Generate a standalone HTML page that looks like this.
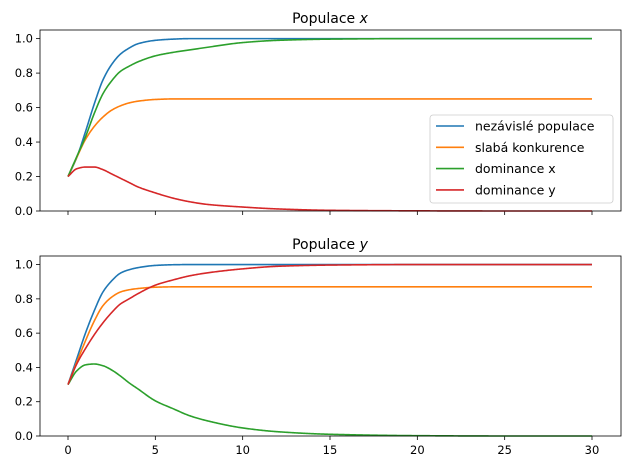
<!DOCTYPE html>
<html><head><meta charset="utf-8"><style>
body{margin:0;background:#fff}
svg text{font-family:"DejaVu Sans","Liberation Sans",sans-serif;fill:#000}
</style></head><body>
<svg id="chart" width="630" height="469" xmlns="http://www.w3.org/2000/svg"></svg>
<script>
const times = [0,0.5,1,1.5,2,2.5,3,3.5,4,5,6,7,8,10,12,15,20,25,30];
const xIndependent = [.2,.31,.46,.62,.76,.85,.91,.945,.97,.99,.997,1,1,1,1,1,1,1,1];
const xWeak = [.2,.31,.415,.49,.545,.585,.61,.627,.637,.647,.65,.65,.65,.65,.65,.65,.65,.65,.65];
const xDomX = [.2,.315,.43,.565,.68,.755,.81,.84,.865,.9,.92,.935,.95,.977,.99,.997,1,1,1];
const xDomY = [.2,.245,.255,.255,.24,.215,.19,.165,.14,.105,.075,.053,.038,.023,.012,.004,.001,0,0];
const yIndependent = [.3,.45,.6,.73,.84,.905,.95,.97,.982,.995,.999,1,1,1,1,1,1,1,1];
const yWeak = [.3,.43,.555,.67,.76,.81,.84,.853,.86,.868,.87,.87,.87,.87,.87,.87,.87,.87,.87];
const yDomX = [.3,.38,.415,.42,.41,.385,.35,.31,.275,.205,.16,.117,.088,.047,.025,.01,.002,0,0];
const yDomY = [.3,.42,.51,.59,.66,.72,.77,.8,.83,.88,.91,.935,.952,.975,.99,.997,1,1,1];
const xTicks = [0,5,10,15,20,25,30];
const yTicks = [0,0.2,0.4,0.6,0.8,1.0];
const seriesNames = ["nezávislé populace","slabá konkurence","dominance x","dominance y"];
const colors = ["#1f77b4","#ff7f0e","#2ca02c","#d62728"];

const svg = document.getElementById('chart');
const NS = "http://www.w3.org/2000/svg";
function mk(tag, attrs, parent){const e=document.createElementNS(NS,tag);for(const k in attrs)e.setAttribute(k,attrs[k]);(parent||svg).appendChild(e);return e;}
const L=40,R=621;
const sx = t => 68 + t*(592-68)/30;

// monotone cubic interpolation (Fritsch-Carlson)
function monotone(xs, ys){
  const n=xs.length, d=[], m=new Array(n);
  for(let i=0;i<n-1;i++) d.push((ys[i+1]-ys[i])/(xs[i+1]-xs[i]));
  m[0]=d[0]; m[n-1]=d[n-2];
  for(let i=1;i<n-1;i++){
    if(d[i-1]*d[i]<=0) m[i]=0;
    else { const w1=2*(xs[i+1]-xs[i])+(xs[i]-xs[i-1]), w2=(xs[i+1]-xs[i])+2*(xs[i]-xs[i-1]); m[i]=(w1+w2)/(w1/d[i-1]+w2/d[i]); }
  }
  return t=>{
    let i=0; while(i<n-2 && t>xs[i+1]) i++;
    const h=xs[i+1]-xs[i], s=(t-xs[i])/h;
    const h00=2*s*s*s-3*s*s+1,h10=s*s*s-2*s*s+s,h01=-2*s*s*s+3*s*s,h11=s*s*s-s*s;
    return h00*ys[i]+h10*h*m[i]+h01*ys[i+1]+h11*h*m[i+1];
  };
}

function panel(top,bottom,title,titleVar,data,showXLabels,pname){
  const g=mk('g',{});
  
  
  const syy = v => bottom - v*(bottom-top)/1.05;
  const ttl=mk('text',{x:330,y:top-7,'text-anchor':'middle','font-size':14},g);
  
  
  ttl.innerHTML=title+' <tspan font-style="italic">'+titleVar+'</tspan>';
  yTicks.forEach(v=>{
    const y=syy(v);
    mk('line',{x1:L-4,x2:L,y1:y,y2:y,stroke:'#000','stroke-width':0.8},g);
    const t=mk('text',{x:L-7,y:y+4,'text-anchor':'end','font-size':11.5},g);
    
    
    t.textContent=v.toFixed(1);
  });
  xTicks.forEach(v=>{
    const x=sx(v);
    mk('line',{x1:x,x2:x,y1:bottom,y2:bottom+4,stroke:'#000','stroke-width':0.8},g);
    if(showXLabels){
      const t=mk('text',{x:x,y:bottom+18,'text-anchor':'middle','font-size':11.5},g);
      
      
      t.textContent=v;
    }
  });
  data.forEach((arr,i)=>{
    const f=monotone(times,arr);
    let d='';
    const tmax=times[times.length-1];
    for(let k=0;k<=600;k++){
      const t=tmax*k/600;
      d+=(k?' L':'M')+sx(t).toFixed(2)+','+syy(f(t)).toFixed(2);
    }
    const p=mk('path',{d:d,fill:'none',stroke:colors[i],'stroke-width':1.6,'stroke-linejoin':'round'},g);
    
    
  });
  const fr=mk('rect',{x:L,y:top,width:R-L,height:bottom-top,fill:'none',stroke:'#000','stroke-width':0.8},g);
  
  
  return g;
}
panel(30,211,'Populace','x',[xIndependent,xWeak,xDomX,xDomY],false,'panel-x');
panel(256,436,'Populace','y',[yIndependent,yWeak,yDomX,yDomY],true,'panel-y');

const lg=mk('g',{});


mk('rect',{x:430,y:115,width:183,height:88,rx:3,fill:'#fff','fill-opacity':0.8,stroke:'#ccc','stroke-width':0.8},lg);
seriesNames.forEach((n,i)=>{
  const y=126+i*21.3;
  mk('line',{x1:436,x2:464,y1:y,y2:y,stroke:colors[i],'stroke-width':1.6},lg);
  const t=mk('text',{x:475,y:y+4.5,'font-size':12.5},lg);
  
  
  t.textContent=n;
});
</script>
</body></html>
